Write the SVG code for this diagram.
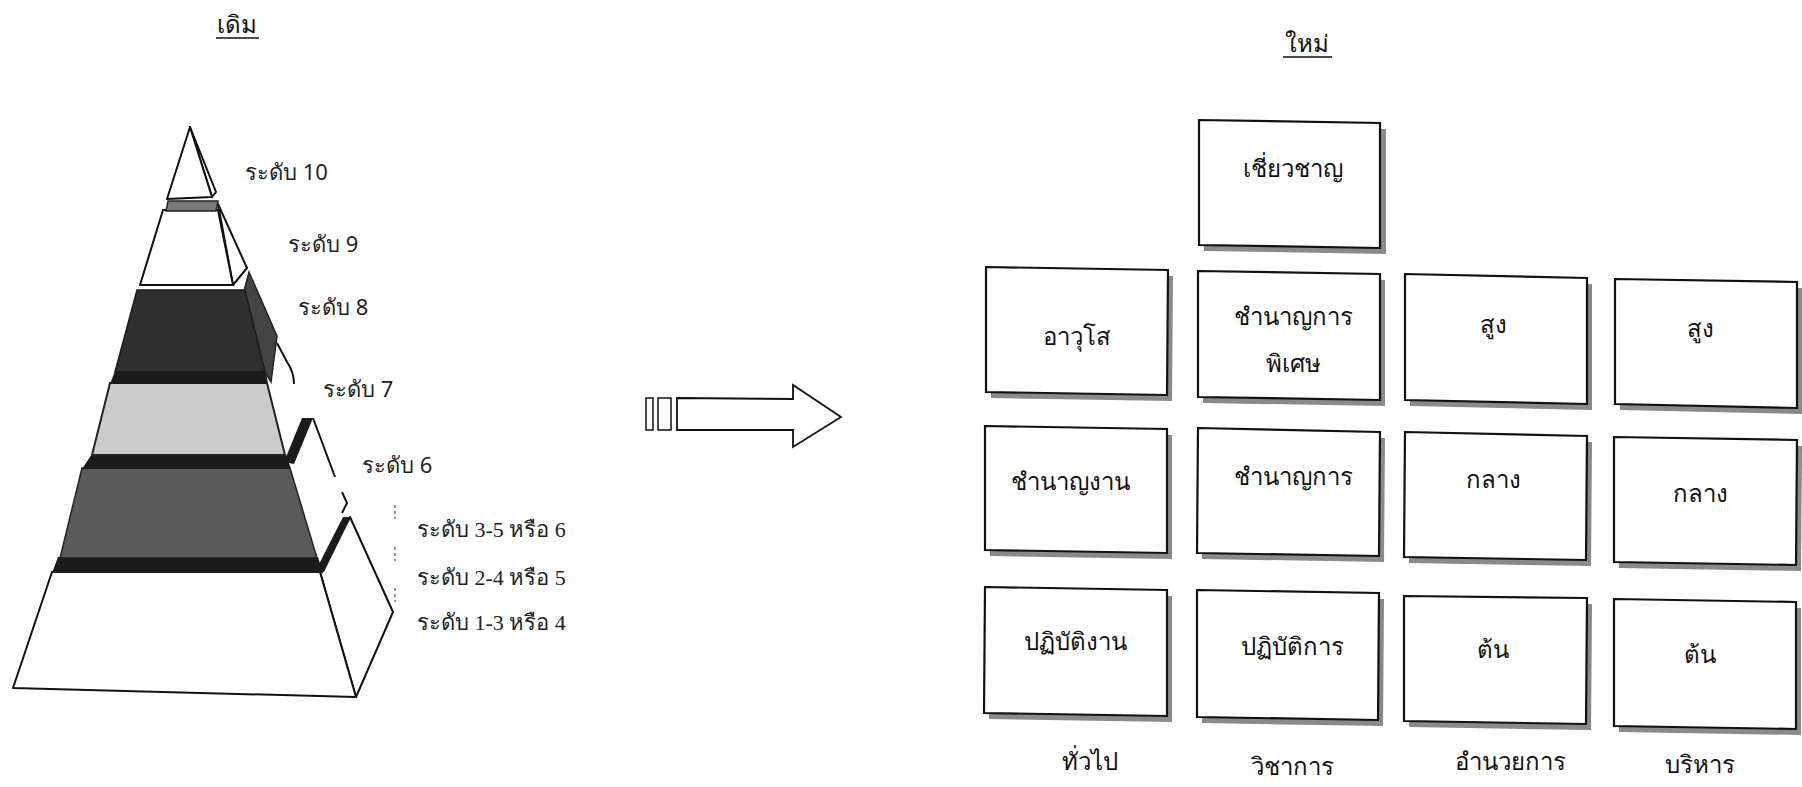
<svg xmlns="http://www.w3.org/2000/svg" width="1802" height="787" viewBox="0 0 1802 787">
<style>
.box{fill:#fff;stroke:#111;stroke-width:2.2}
.sh{fill:#8a8a8a}
.t{font-family:"Noto Sans","DejaVu Sans",sans-serif;font-size:24px;fill:#111;text-anchor:middle}
.lv{font-family:"Noto Sans","DejaVu Sans",sans-serif;font-size:22px;fill:#222}
.ls{font-family:"Liberation Serif","Noto Serif",serif;font-size:22px;fill:#222}
.ln{fill:none;stroke:#111;stroke-width:2}
.wf{fill:#fff;stroke:#111;stroke-width:2;stroke-linejoin:round}
.blk{fill:#1b1b1b}
</style>
<rect width="1802" height="787" fill="#fff"/>

<g id="header-old">
<text class="t" x="237" y="33">เดิม</text>
<line x1="216" y1="38" x2="259" y2="38" stroke="#111" stroke-width="1.5"/>
</g>
<g id="header-new">
<text class="t" x="1307" y="52">ใหม่</text>
<line x1="1283" y1="57" x2="1332" y2="57" stroke="#111" stroke-width="1.5"/>
</g>

<g id="pyramid">
<polygon class="wf" points="350,517 393,612 356,697 320,572"/>
<polygon class="blk" points="316,570 343,517 351,517 324,572"/>
<polygon class="wf" points="52,572 320,572 356,697 13,688" stroke-width="2.5"/>
<polygon class="blk" points="58,557 318,557 323,573 52,573"/>
<path class="ln" d="M313,418 L335,477"/>
<polygon class="blk" points="284,462 302,418 313,418 294,464"/>
<path class="ln" d="M342,492 L347,503 L342,513" stroke-width="1.5"/>
<polygon points="82,468 290,468 317,558 60,558" fill="#5a5a5a" stroke="#222" stroke-width="1.5"/>
<polygon class="blk" points="92,454 286,454 291,469 82,469"/>
<path class="ln" d="M277,343 L287,362 Q294,372 294,384"/>
<polygon points="110,383 267,383 285,455 92,455" fill="#cbcbcb" stroke="#222" stroke-width="2"/>
<polygon class="blk" points="115,371 266,371 268,384 110,384"/>
<polygon points="244,291 249,272 277,336 271,382 265,372" fill="#444" stroke="#222" stroke-width="1.5"/>
<polygon points="137,290 245,290 265,372 115,372" fill="#2f2f2f" stroke="#1a1a1a" stroke-width="1.5"/>
<polygon class="wf" points="218,204 247,268 233,285"/>
<polygon class="wf" points="163,210 218,210 233,285 140,285"/>
<polygon points="168,201 218,201 216,211 166,211" fill="#7a7a7a" stroke="#222" stroke-width="1.5"/>
<polygon class="wf" points="190,127 216,192 212,197"/>
<polygon class="wf" points="190,127 212,197 167,199"/>
<g stroke="#777" stroke-width="1.5" stroke-dasharray="3,3">
<line x1="395" y1="505" x2="395" y2="519"/>
<line x1="395" y1="547" x2="395" y2="561"/>
<line x1="395" y1="588" x2="395" y2="602"/>
</g>
</g>

<g id="pyramid-labels">
<text class="lv" x="245" y="180">ระดับ 10</text>
<text class="lv" x="288" y="252">ระดับ 9</text>
<text class="lv" x="298" y="315">ระดับ 8</text>
<text class="lv" x="323" y="397">ระดับ 7</text>
<text class="lv" x="362" y="473">ระดับ 6</text>
<text class="ls" x="417" y="537">ระดับ 3-5 หรือ 6</text>
<text class="ls" x="417" y="585">ระดับ 2-4 หรือ 5</text>
<text class="ls" x="417" y="630">ระดับ 1-3 หรือ 4</text>
</g>

<g id="connectors">
<rect x="646" y="398" width="7" height="32" fill="#fff" stroke="#111" stroke-width="1.5"/>
<rect x="658" y="398" width="13" height="32" fill="#fff" stroke="#111" stroke-width="1.5"/>
<path d="M677,398 L793,399 L793,385 L841,417 L793,447 L793,430 L677,430 Z" fill="#fff" stroke="#111" stroke-width="1.8" stroke-linejoin="miter"/>
</g>

<g id="n-expert">
<polygon class="sh" points="1204,126 1386,129 1386,254 1204,251"/>
<polygon class="box" points="1199,120 1380,123 1380,248 1199,245"/>
<text class="t" x="1293" y="177">เชี่ยวชาญ</text>
</g>
<g id="n-senior">
<polygon class="sh" points="991,273 1173,276 1172,401 991,398"/>
<polygon class="box" points="986,267 1168,270 1167,395 986,392"/>
<text class="t" x="1077" y="345">อาวุโส</text>
</g>
<g id="n-special">
<polygon class="sh" points="1203,277 1385,280 1385,406 1203,403"/>
<polygon class="box" points="1198,271 1380,274 1380,400 1198,397"/>
<text class="t" x="1293" y="325">ชำนาญการ</text>
<text class="t" x="1293" y="372">พิเศษ</text>
</g>
<g id="n-high-dir">
<polygon class="sh" points="1410,280 1592,284 1592,410 1410,406"/>
<polygon class="box" points="1405,274 1587,278 1587,404 1405,400"/>
<text class="t" x="1493" y="333">สูง</text>
</g>
<g id="n-high-exec">
<polygon class="sh" points="1620,285 1802,288 1802,414 1620,410"/>
<polygon class="box" points="1615,279 1797,282 1797,408 1615,404"/>
<text class="t" x="1700" y="337">สูง</text>
</g>
<g id="n-skilled">
<polygon class="sh" points="990,432 1172,435 1172,559 990,556"/>
<polygon class="box" points="985,426 1167,429 1167,553 985,550"/>
<text class="t" x="1070" y="490">ชำนาญงาน</text>
</g>
<g id="n-professional">
<polygon class="sh" points="1203,434 1385,438 1384,562 1202,559"/>
<polygon class="box" points="1198,428 1380,432 1379,556 1197,553"/>
<text class="t" x="1293" y="485">ชำนาญการ</text>
</g>
<g id="n-mid-dir">
<polygon class="sh" points="1410,438 1592,442 1591,566 1409,563"/>
<polygon class="box" points="1405,432 1587,436 1586,560 1404,557"/>
<text class="t" x="1493" y="488">กลาง</text>
</g>
<g id="n-mid-exec">
<polygon class="sh" points="1619,443 1802,446 1801,571 1619,568"/>
<polygon class="box" points="1614,437 1797,440 1796,565 1614,562"/>
<text class="t" x="1700" y="502">กลาง</text>
</g>
<g id="n-operational">
<polygon class="sh" points="990,593 1172,596 1172,722 989,719"/>
<polygon class="box" points="985,587 1167,590 1167,716 984,713"/>
<text class="t" x="1075" y="650">ปฏิบัติงาน</text>
</g>
<g id="n-practitioner">
<polygon class="sh" points="1202,596 1384,599 1383,726 1202,723"/>
<polygon class="box" points="1197,590 1379,593 1378,720 1197,717"/>
<text class="t" x="1292" y="655">ปฏิบัติการ</text>
</g>
<g id="n-init-dir">
<polygon class="sh" points="1409,602 1592,604 1591,730 1409,727"/>
<polygon class="box" points="1404,596 1587,598 1586,724 1404,721"/>
<text class="t" x="1493" y="658">ต้น</text>
</g>
<g id="n-init-exec">
<polygon class="sh" points="1619,605 1801,608 1801,735 1619,732"/>
<polygon class="box" points="1614,599 1796,602 1796,729 1614,726"/>
<text class="t" x="1700" y="663">ต้น</text>
</g>

<g id="column-labels">
<text class="t" x="1090" y="770">ทั่วไป</text>
<text class="t" x="1292" y="775">วิชาการ</text>
<text class="t" x="1510" y="770">อำนวยการ</text>
<text class="t" x="1700" y="773">บริหาร</text>
</g>
</svg>
